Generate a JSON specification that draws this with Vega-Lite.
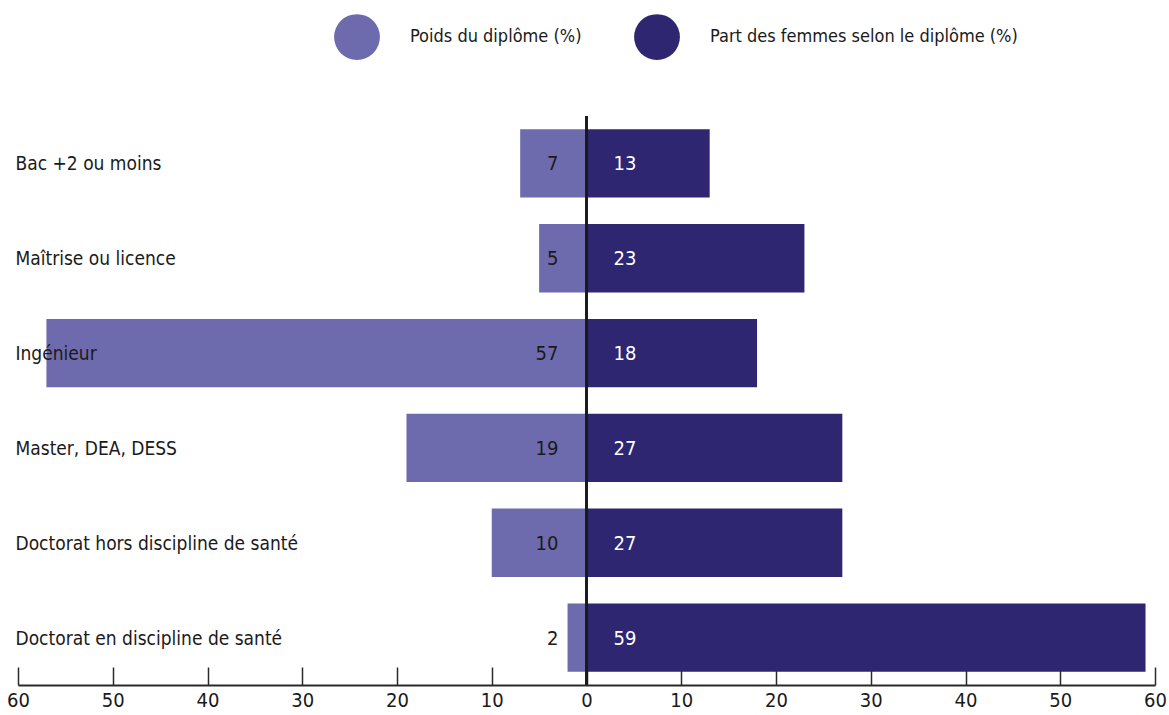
{
  "$schema": "https://vega.github.io/schema/vega-lite/v6.json",
  "width": 1137,
  "height": 569,
  "autosize": {"type": "none"},
  "padding": {"left": 18, "top": 116, "right": 14, "bottom": 30},
  "background": "white",
  "config": {
    "font": "'DejaVu Sans Condensed', 'Liberation Sans Narrow', 'Roboto Condensed', 'Open Sans Condensed', Roboto, sans-serif",
    "view": {"stroke": null}
  },
  "data": {
    "values": [
      {"diplome": "Bac +2 ou moins", "serie": "Poids du diplôme (%)", "v": 7},
      {"diplome": "Bac +2 ou moins", "serie": "Part des femmes selon le diplôme (%)", "v": 13},
      {"diplome": "Maîtrise ou licence", "serie": "Poids du diplôme (%)", "v": 5},
      {"diplome": "Maîtrise ou licence", "serie": "Part des femmes selon le diplôme (%)", "v": 23},
      {"diplome": "Ingénieur", "serie": "Poids du diplôme (%)", "v": 57},
      {"diplome": "Ingénieur", "serie": "Part des femmes selon le diplôme (%)", "v": 18},
      {"diplome": "Master, DEA, DESS", "serie": "Poids du diplôme (%)", "v": 19},
      {"diplome": "Master, DEA, DESS", "serie": "Part des femmes selon le diplôme (%)", "v": 27},
      {"diplome": "Doctorat hors discipline de santé", "serie": "Poids du diplôme (%)", "v": 10},
      {"diplome": "Doctorat hors discipline de santé", "serie": "Part des femmes selon le diplôme (%)", "v": 27},
      {"diplome": "Doctorat en discipline de santé", "serie": "Poids du diplôme (%)", "v": 2},
      {"diplome": "Doctorat en discipline de santé", "serie": "Part des femmes selon le diplôme (%)", "v": 59}
    ]
  },
  "transform": [
    {"calculate": "datum.serie == 'Poids du diplôme (%)' ? -datum.v : datum.v", "as": "sv"}
  ],
  "encoding": {
    "y": {
      "field": "diplome",
      "type": "nominal",
      "sort": null,
      "scale": {"paddingInner": 0.28, "paddingOuter": 0.14},
      "axis": {
        "title": null,
        "domain": false,
        "ticks": false,
        "labelAlign": "left",
        "labelPadding": 3,
        "labelFontSize": 19,
        "labelColor": "#1a1a1a",
        "labelLimit": 0,
        "labelOffset": 1,
        "zindex": 2
      }
    }
  },
  "layer": [
    {
      "mark": {"type": "bar"},
      "encoding": {
        "x": {
          "field": "sv",
          "type": "quantitative",
          "scale": {"domain": [-60, 60], "nice": false},
          "axis": {
            "title": null,
            "values": [-60, -50, -40, -30, -20, -10, 0, 10, 20, 30, 40, 50, 60],
            "labelExpr": "abs(datum.value)",
            "grid": false,
            "domainColor": "#2a2a2a",
            "domainWidth": 2,
            "tickColor": "#2a2a2a",
            "tickWidth": 1.5,
            "tickSize": -18,
            "labelPadding": 23,
            "labelFontSize": 20,
            "labelColor": "#1a1a1a",
            "labelFlush": false
          }
        },
        "color": {
          "field": "serie",
          "type": "nominal",
          "scale": {
            "domain": ["Poids du diplôme (%)", "Part des femmes selon le diplôme (%)"],
            "range": ["#6e6aae", "#2e2670"]
          },
          "legend": {
            "title": null,
            "orient": "none",
            "direction": "horizontal",
            "legendX": 316,
            "legendY": -102,
            "symbolType": "circle",
            "symbolSize": 2100,
            "symbolStrokeWidth": 0,
            "symbolOpacity": 1,
            "labelFontSize": 18,
            "labelColor": "#1a1a1a",
            "labelOffset": 30,
            "columnPadding": 52,
            "labelLimit": 0
          }
        }
      }
    },
    {
      "mark": {"type": "rule", "color": "#1a1a1a", "strokeWidth": 1.5},
      "encoding": {"x": {"datum": 0}, "y": null}
    },
    {
      "transform": [{"filter": "datum.sv < 0"}],
      "mark": {"type": "text", "align": "right", "dx": -28, "dy": 1, "fontSize": 20, "color": "#1a1a1a"},
      "encoding": {"x": {"datum": 0}, "text": {"field": "v"}}
    },
    {
      "transform": [{"filter": "datum.sv > 0"}],
      "mark": {"type": "text", "align": "left", "dx": 27, "dy": 1, "fontSize": 20, "color": "#ffffff"},
      "encoding": {"x": {"datum": 0}, "text": {"field": "v"}}
    }
  ]
}
